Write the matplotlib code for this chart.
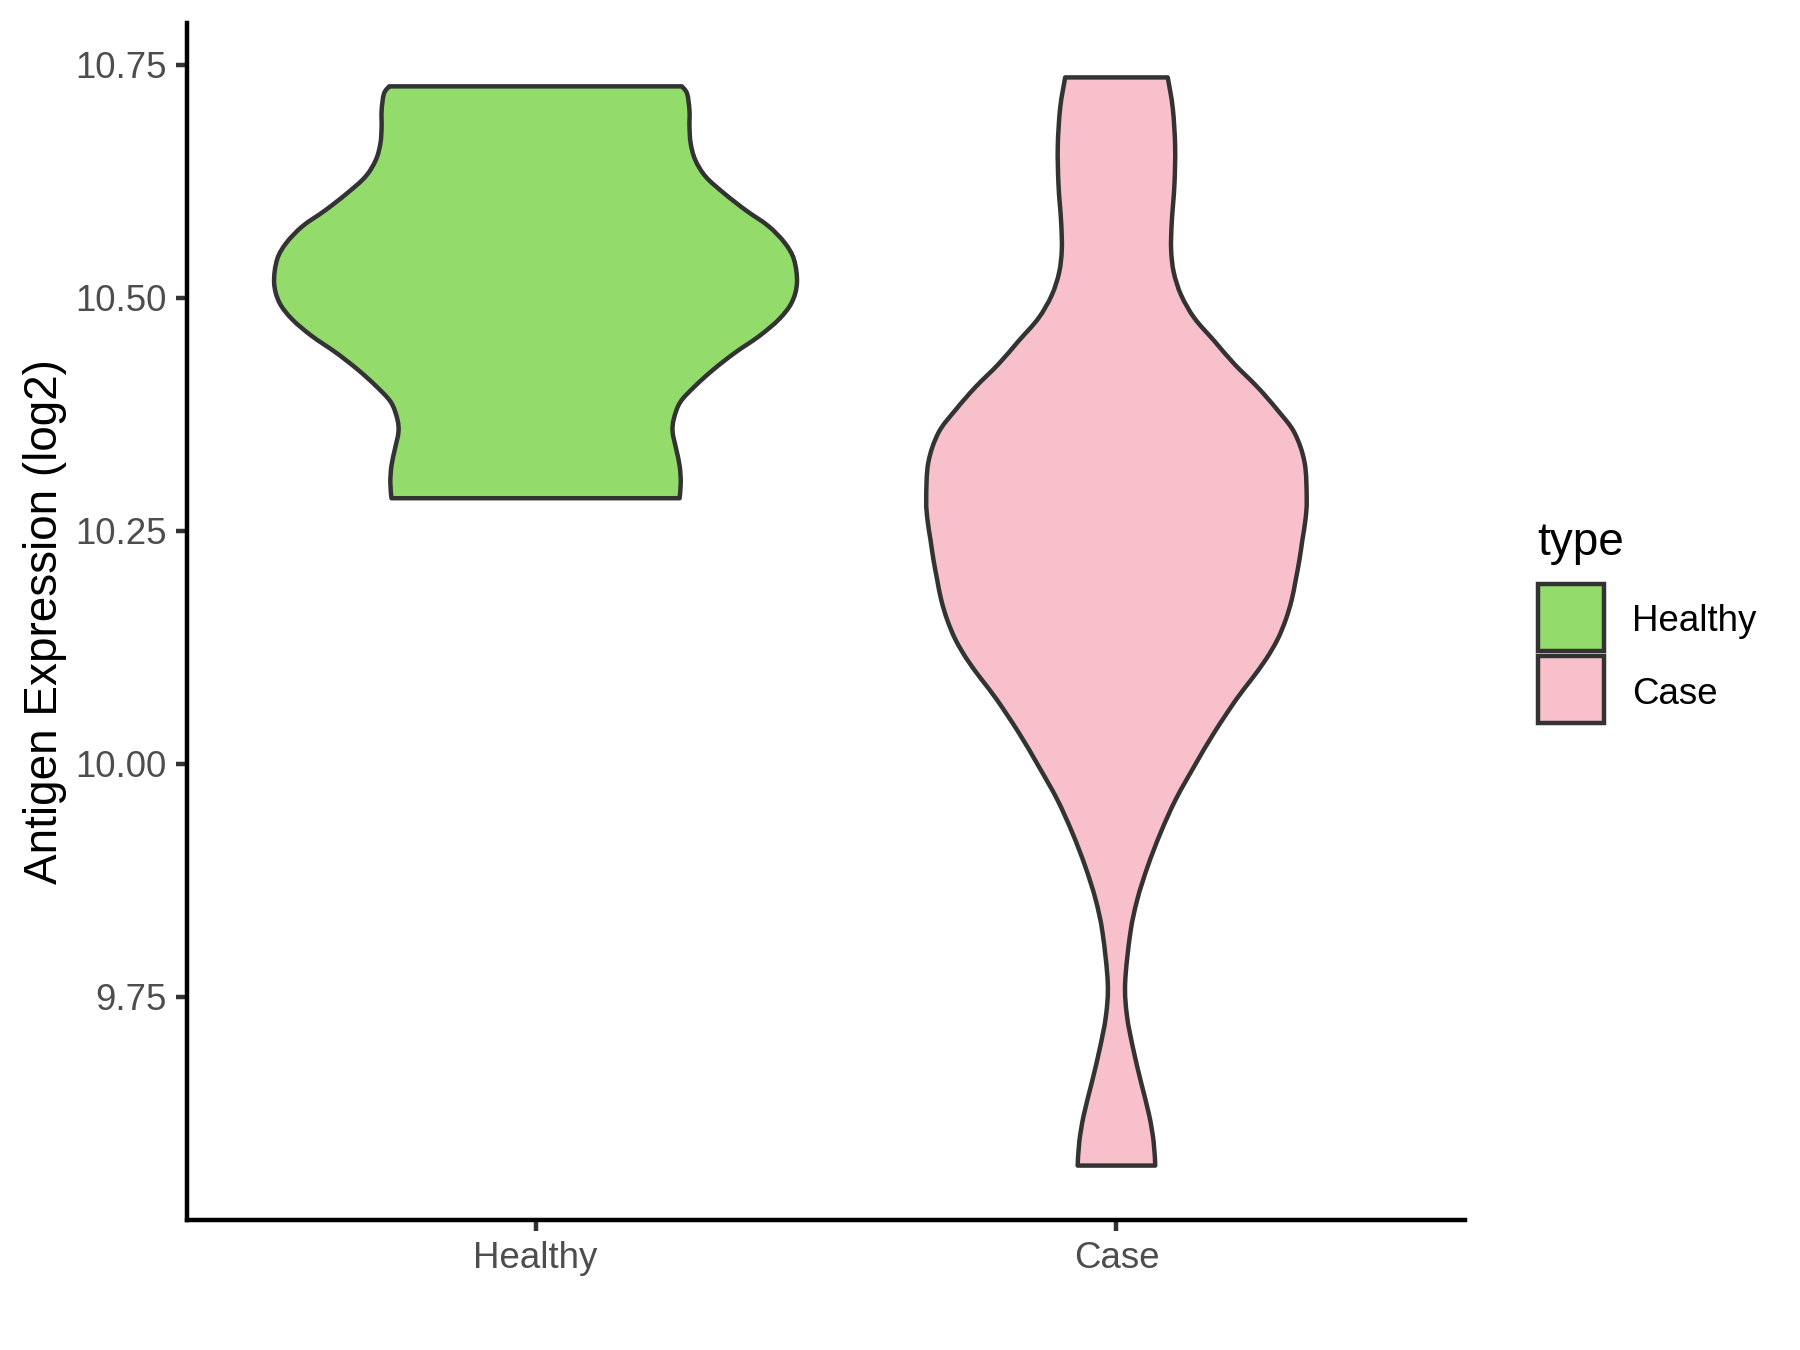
import numpy as np
import matplotlib
matplotlib.use('Agg')
import matplotlib.pyplot as plt
from matplotlib.patches import Rectangle, PathPatch
from matplotlib.path import Path

plt.rcParams['font.family'] = ['Liberation Sans', 'DejaVu Sans']

# groups and fill colours
groups = ['Healthy', 'Case']
fills = ['#93DB6B', '#F8C0CB']

# violin outlines: y value and half width (in x units)
healthy_y = [10.727, 10.719, 10.701, 10.684, 10.666, 10.648, 10.630, 10.612, 10.594,
             10.577, 10.559, 10.541, 10.516, 10.495, 10.477, 10.459, 10.441, 10.423,
             10.405, 10.388, 10.370, 10.356, 10.338, 10.320, 10.302, 10.285]
healthy_hw = [0.252, 0.261, 0.265, 0.265, 0.267, 0.275, 0.293, 0.325, 0.362,
              0.401, 0.429, 0.445, 0.450, 0.441, 0.419, 0.385, 0.343, 0.306,
              0.274, 0.249, 0.238, 0.236, 0.242, 0.248, 0.250, 0.248]

case_y = [10.7366, 10.7038, 10.6628, 10.6217, 10.5810, 10.5521, 10.5275, 10.5029,
          10.4782, 10.4536, 10.4289, 10.4043, 10.3797, 10.3553, 10.3229, 10.2832,
          10.2617, 10.2403, 10.2189, 10.1974, 10.1760, 10.1546, 10.1332, 10.1117,
          10.0903, 10.0689, 10.0332, 9.9974, 9.9617, 9.9260, 9.8903, 9.8546,
          9.8189, 9.7653, 9.7295, 9.6938, 9.6585, 9.6224, 9.5942, 9.5688]
case_hw = [0.0883, 0.0969, 0.1010, 0.0998, 0.0952, 0.0941, 0.0986, 0.1114,
           0.1343, 0.1687, 0.2031, 0.2427, 0.2771, 0.3064, 0.3240, 0.3275,
           0.3253, 0.3201, 0.3150, 0.3086, 0.3017, 0.2914, 0.2771, 0.2569,
           0.2320, 0.2060, 0.1680, 0.1340, 0.1020, 0.0760, 0.0540, 0.0360,
           0.0240, 0.0150, 0.0181, 0.0289, 0.0422, 0.0565, 0.0640, 0.0668]

yticks = [9.75, 10.00, 10.25, 10.50, 10.75]


def side_curve(xs, ys):
    # bezier pieces through the outline points (catmull-rom style)
    pts = np.column_stack([xs, ys])
    n = len(pts)
    verts = []
    for i in range(n - 1):
        p0 = pts[max(i - 1, 0)]
        p1 = pts[i]
        p2 = pts[i + 1]
        p3 = pts[min(i + 2, n - 1)]
        verts += [p1 + (p2 - p0) / 6, p2 - (p3 - p1) / 6, p2]
    return verts


lw = 1.07
fig = plt.figure(figsize=(6, 4.5), dpi=300)
ax = fig.add_axes([187/1800, 1 - 1220/1350, (1465 - 187)/1800, (1220 - 23)/1350])

profiles = [(healthy_y, healthy_hw), (case_y, case_hw)]
for i, (yy, hw) in enumerate(profiles):
    pos = i + 1
    yy = np.array(yy)
    hw = np.array(hw)
    left = side_curve(pos - hw, yy)
    right = side_curve((pos + hw)[::-1], yy[::-1])
    verts = [(pos - hw[0], yy[0])] + left + [(pos + hw[-1], yy[-1])] + right + [(0, 0)]
    codes = ([Path.MOVETO] + [Path.CURVE4] * len(left) + [Path.LINETO]
             + [Path.CURVE4] * len(right) + [Path.CLOSEPOLY])
    ax.add_patch(PathPatch(Path(verts, codes), facecolor=fills[i], edgecolor='#333333',
                           lw=lw, joinstyle='round'))

ax.set_xlim(0.4, 2.6)
ax.set_ylim(9.5104, 10.795)
ax.set_xticks([1, 2])
ax.set_xticklabels(groups)
ax.set_yticks(yticks)
ax.set_yticklabels(['%.2f' % v for v in yticks])

for s in ['top', 'right']:
    ax.spines[s].set_visible(False)
for s in ['left', 'bottom']:
    ax.spines[s].set_linewidth(lw)
    ax.spines[s].set_color('black')
ax.tick_params(length=2.75, width=lw, color='#333333', labelsize=8.8,
               labelcolor='#4D4D4D', pad=2.2)
ax.set_ylabel('Antigen Expression (log2)', fontsize=11, color='black', labelpad=1.8)

# legend, drawn like the ggplot guide
fig.text(1537/1800, 1 - 555/1350, 'type', fontsize=11, va='baseline', ha='left')
key_tops = [584, 656]
for i, g in enumerate(groups):
    top = key_tops[i]
    fig.add_artist(Rectangle((1538/1800, 1 - (top + 67)/1350), 66/1800, 67/1350,
                             transform=fig.transFigure, facecolor=fills[i],
                             edgecolor='#333333', lw=lw))
    fig.text(1632/1800, 1 - (top + 38)/1350, g, fontsize=8.8, va='center', ha='left')

fig.savefig('out.png', dpi=300)
